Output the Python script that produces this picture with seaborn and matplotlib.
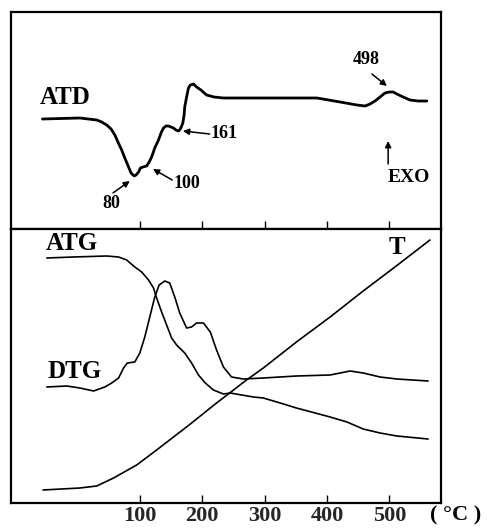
import matplotlib
matplotlib.use("Agg")
import matplotlib.pyplot as plt
import seaborn as sns

sns.set_style("white")
plt.rcParams['font.family'] = ['Liberation Serif', 'DejaVu Serif']
plt.rcParams['font.weight'] = 'bold'

# ---- data (temperature axis in °C, signals in arbitrary units) ----
atd_t = [-56, 4, 31, 39, 47, 54, 60, 65, 71, 76, 82, 86, 91, 94, 98, 101, 105, 111, 115, 119,
         124, 130, 134, 138, 142, 146, 150, 154, 158, 162, 165, 169, 171, 172, 175, 178, 181, 186,
         191, 198, 207, 219, 234, 287, 341, 384, 421, 448, 461, 469, 477, 485, 493, 500, 506, 512,
         522, 533, 546, 560]
atd_v = [109, 110, 108, 106, 103, 99, 93, 86, 78, 70, 61, 55, 52, 53, 56, 60, 61, 62, 66, 71,
         80, 88, 95, 100, 102, 102, 101, 100, 98, 97, 99, 105, 113, 121, 131, 140, 143, 144,
         141, 138, 133, 131, 130, 130, 130, 130, 126, 123, 122, 124, 127, 131, 135, 136, 136, 134,
         131, 128, 127, 127]

atg_t = [-49, -7, 47, 66, 79, 92, 103, 114, 122, 127, 135, 143, 151, 159, 172, 183, 194, 205,
         218, 234, 245, 282, 298, 325, 351, 405, 432, 458, 485, 512, 562]
atg_v = [245, 246, 247, 246, 243, 236, 231, 223, 215, 205, 191, 178, 165, 158, 150, 140, 128, 120,
         113, 109, 110, 106, 105, 100, 95, 86, 81, 74, 70, 67, 64]

dtg_t = [-49, -17, 4, 26, 44, 55, 66, 74, 80, 92, 100, 108, 116, 124, 131, 140, 148, 156, 164,
         175, 183, 191, 202, 213, 223, 234, 247, 266, 298, 351, 405, 421, 437, 458, 485, 512, 562]
dtg_v = [116, 117, 115, 112, 116, 120, 125, 135, 140, 141, 150, 166, 186, 206, 218, 222, 220, 206, 190,
         175, 176, 180, 180, 171, 153, 136, 126, 124, 125, 127, 128, 130, 132, 130, 126, 124, 122]

temp_t = [-55, 4, 31, 58, 95, 127, 154, 180, 202, 223, 245, 271, 298, 351, 405, 458, 512, 565]
temp_v = [13, 15, 17, 25, 38, 53, 66, 78.5, 89.5, 100, 110.5, 123, 135, 161, 186, 212, 237.5, 263]

xticks = [100, 200, 300, 400, 500]
xticklabels = ["100", "200", "300", "400", "500"]

W, H = 487, 532
fig = plt.figure(figsize=(W / 100, H / 100), dpi=100)
ax1 = fig.add_axes([11 / W, 1 - 229 / H, 430 / W, 217 / H])
ax2 = fig.add_axes([11 / W, 1 - 503 / H, 430 / W, 274 / H])

xl = (-106.4, 582.7)
for ax in (ax1, ax2):
    ax.set_xlim(*xl)
    for s in ax.spines.values():
        s.set_visible(True)
        s.set_color('black')
        s.set_linewidth(1.6)
    ax.set_xticks(xticks)
    ax.set_yticks([])
    ax.tick_params(axis='x', direction='in', length=6, width=1.0, color='black',
                   bottom=True, top=False, pad=2)

ax1.set_ylim(-1, 216)
ax2.set_ylim(0, 274)
ax1.set_xticklabels([])
ax2.set_xticklabels(xticklabels, fontsize=16, fontweight='bold')

sns.lineplot(x=atd_t, y=atd_v, ax=ax1, color='black', lw=2.0, sort=False)
sns.lineplot(x=atg_t, y=atg_v, ax=ax2, color='black', lw=1.2, sort=False)
sns.lineplot(x=dtg_t, y=dtg_v, ax=ax2, color='black', lw=1.2, sort=False)
sns.lineplot(x=temp_t, y=temp_v, ax=ax2, color='black', lw=1.2, sort=False)

for ax in (ax1, ax2):
    ax.set_xlabel("")
    ax.set_ylabel("")

bold = dict(fontweight='bold', color='black', ha='center', va='center')
arrow = dict(arrowstyle='-|>', lw=1.1, color='black', mutation_scale=9, shrinkA=0, shrinkB=0)

ax1.text(-20, 131, "ATD", fontsize=18, **bold)
ax1.text(54, 25, "80", fontsize=13, **bold)
ax1.annotate("", xy=(84, 47), xytext=(57, 35), arrowprops=arrow)
ax1.text(176, 44, "100", fontsize=13, **bold)
ax1.annotate("", xy=(121, 59), xytext=(152, 48), arrowprops=arrow)
ax1.text(235, 94, "161", fontsize=13, **bold)
ax1.annotate("", xy=(169, 97), xytext=(212, 94), arrowprops=arrow)
ax1.text(463, 168, "498", fontsize=13, **bold)
ax1.annotate("", xy=(496, 142), xytext=(472, 154), arrowprops=arrow)
ax1.text(531, 50, "EXO", fontsize=14, **bold)
ax1.annotate("", xy=(498, 87), xytext=(498, 64), arrowprops=arrow)

ax2.text(-9, 259, "ATG", fontsize=18, **bold)
ax2.text(-5, 131, "DTG", fontsize=18, **bold)
ax2.text(512, 256, "T", fontsize=18, **bold)
ax2.text(606, -12, "( °C )", fontsize=16, clip_on=False, **bold)

fig.savefig("out.png", dpi=100)
